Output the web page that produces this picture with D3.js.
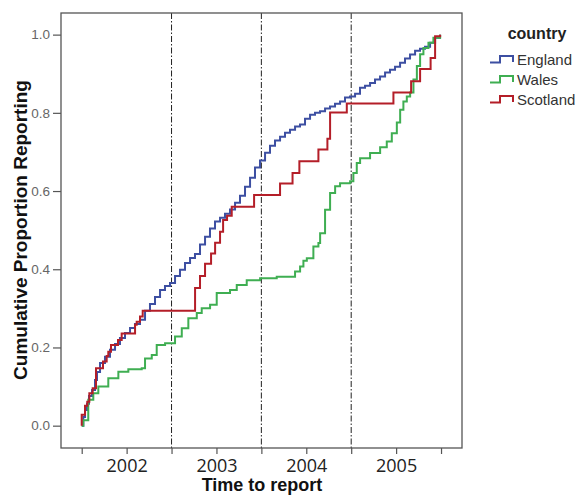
<!DOCTYPE html>
<html>
<head>
<meta charset="utf-8">
<script src="https://cdn.jsdelivr.net/npm/d3@7"></script>
<style>
  body { margin: 0; background: #fff; }
</style>
</head>
<body>
<div id="chart"></div>
<script>

/* data: [years since start of 2002, cumulative proportion] */
var countries = ["England", "Wales", "Scotland"];
var yearLabels = ["2002", "2003", "2004", "2005"];
var yTickValues = [0, 0.2, 0.4, 0.6, 0.8, 1.0];
var yearBreaks = [1, 2, 3];

var england = [
  [0, 0], [0.018, 0.022], [0.037, 0.04], [0.059, 0.056], [0.081, 0.076], [0.115, 0.091],
  [0.148, 0.117], [0.170, 0.137], [0.204, 0.16], [0.259, 0.176], [0.315, 0.194],
  [0.371, 0.209], [0.426, 0.224], [0.482, 0.237], [0.538, 0.25], [0.593, 0.26],
  [0.649, 0.271], [0.705, 0.294], [0.760, 0.311], [0.816, 0.329], [0.872, 0.347],
  [0.927, 0.357], [0.983, 0.365], [1.039, 0.383], [1.094, 0.399], [1.150, 0.416],
  [1.206, 0.429], [1.261, 0.439], [1.317, 0.463], [1.373, 0.483], [1.428, 0.504],
  [1.484, 0.522], [1.540, 0.532], [1.595, 0.542], [1.651, 0.553], [1.707, 0.57],
  [1.762, 0.588], [1.818, 0.611], [1.874, 0.634], [1.929, 0.66], [1.985, 0.678],
  [2.041, 0.698], [2.096, 0.716], [2.152, 0.729], [2.208, 0.739], [2.263, 0.749],
  [2.319, 0.757], [2.375, 0.765], [2.430, 0.77], [2.486, 0.785], [2.542, 0.795],
  [2.597, 0.8], [2.653, 0.804], [2.709, 0.811], [2.764, 0.816], [2.820, 0.823],
  [2.876, 0.829], [2.931, 0.839], [2.987, 0.842], [3.043, 0.849], [3.098, 0.864],
  [3.154, 0.869], [3.210, 0.876], [3.265, 0.885], [3.321, 0.893], [3.377, 0.903],
  [3.432, 0.91], [3.488, 0.918], [3.544, 0.928], [3.599, 0.939], [3.655, 0.949],
  [3.711, 0.959], [3.766, 0.964], [3.822, 0.969], [3.878, 0.979], [3.934, 0.992],
  [3.989, 1.0]
];

var wales = [
  [0, 0], [0.018, 0.014], [0.073, 0.066], [0.129, 0.083], [0.185, 0.1], [0.296, 0.121],
  [0.408, 0.138], [0.519, 0.144], [0.668, 0.147], [0.705, 0.172], [0.78, 0.181],
  [0.835, 0.206], [0.928, 0.211], [1.039, 0.228], [1.114, 0.249], [1.187, 0.275],
  [1.281, 0.288], [1.336, 0.3], [1.429, 0.309], [1.503, 0.339], [1.651, 0.347],
  [1.726, 0.36], [1.837, 0.372], [1.986, 0.377], [2.171, 0.381], [2.375, 0.394],
  [2.431, 0.407], [2.468, 0.422], [2.506, 0.428], [2.579, 0.458], [2.635, 0.467],
  [2.654, 0.492], [2.709, 0.552], [2.765, 0.595], [2.821, 0.612], [2.876, 0.62],
  [2.988, 0.625], [3.024, 0.646], [3.062, 0.672], [3.099, 0.684], [3.21, 0.697],
  [3.322, 0.712], [3.396, 0.727], [3.452, 0.748], [3.508, 0.775], [3.545, 0.808],
  [3.581, 0.829], [3.619, 0.842], [3.656, 0.852], [3.693, 0.885], [3.731, 0.92],
  [3.767, 0.95], [3.804, 0.966], [3.86, 0.979], [3.915, 0.992], [3.99, 1.0]
];

var scotland = [
  [0, 0], [0, 0.028], [0.037, 0.051], [0.062, 0.061], [0.085, 0.083], [0.122, 0.096],
  [0.159, 0.147], [0.237, 0.164], [0.278, 0.178], [0.296, 0.189], [0.326, 0.206],
  [0.404, 0.219], [0.445, 0.236], [0.594, 0.258], [0.612, 0.266], [0.649, 0.279],
  [0.679, 0.294], [1.262, 0.352], [1.317, 0.383], [1.373, 0.414], [1.44, 0.44],
  [1.485, 0.468], [1.54, 0.496], [1.574, 0.526], [1.618, 0.537], [1.67, 0.56],
  [1.919, 0.59], [2.208, 0.619], [2.347, 0.646], [2.423, 0.676], [2.635, 0.706],
  [2.735, 0.734], [2.765, 0.801], [2.951, 0.824], [3.47, 0.852], [3.667, 0.881],
  [3.767, 0.912], [3.884, 0.94], [3.934, 0.996], [3.99, 1.0]
];

var series = [england, wales, scotland];
var colors = ["#3d4fa2", "#3fae52", "#b41e28"];

/* canvas and frame */
var W = 579, H = 495;
var frame = {left: 61, right: 462, top: 13, bottom: 448};

var svg = d3.select("#chart").append("svg")
  .attr("width", W)
  .attr("height", H)
  .style("font-family", "'Liberation Sans', Arial, sans-serif");

var x = d3.scaleLinear()
  .domain([-0.2305, 4.2334])
  .range([frame.left, frame.right]);

var y = d3.scaleLinear()
  .domain([-0.0571, 1.0553])
  .range([frame.bottom, frame.top]);

/* year boundaries, dash-dot */
svg.selectAll(".yearline")
  .data(yearBreaks)
  .enter().append("line")
  .attr("class", "yearline")
  .attr("x1", function(d) { return x(d); })
  .attr("x2", function(d) { return x(d); })
  .attr("y1", frame.top)
  .attr("y2", frame.bottom)
  .attr("stroke", "#222")
  .attr("stroke-width", 1)
  .attr("stroke-dasharray", "6,2,1.5,2");

/* step lines */
var line = d3.line()
  .x(function(d) { return x(d[0]); })
  .y(function(d) { return y(d[1]); })
  .curve(d3.curveStepAfter);

svg.selectAll(".series")
  .data(series)
  .enter().append("path")
  .attr("class", "series")
  .attr("d", line)
  .attr("fill", "none")
  .attr("stroke", function(d, i) { return colors[i]; })
  .attr("stroke-width", 2);

/* frame */
svg.append("rect")
  .attr("x", frame.left)
  .attr("y", frame.top)
  .attr("width", frame.right - frame.left)
  .attr("height", frame.bottom - frame.top)
  .attr("fill", "none")
  .attr("stroke", "#555")
  .attr("stroke-width", 1.3);

/* y axis */
var yAxis = svg.append("g")
  .attr("transform", "translate(" + frame.left + ",0)")
  .call(d3.axisLeft(y).tickValues(yTickValues).tickFormat(d3.format(".1f")).tickSize(8).tickPadding(3));
yAxis.select(".domain").remove();
yAxis.selectAll("line").attr("stroke", "#555").attr("stroke-width", 1.2);
yAxis.selectAll("text")
  .attr("fill", "#666")
  .style("font-size", "13.5px")
  .style("font-family", "'Liberation Sans', Arial, sans-serif");

/* x axis: ticks every half year, labels in the middle of each year */
var xTickValues = d3.range(0, 4.01, 0.5);
var xAxis = svg.append("g")
  .attr("transform", "translate(0," + frame.bottom + ")")
  .call(d3.axisBottom(x).tickValues(xTickValues)
    .tickFormat(function(d) { return (d % 1 === 0.5) ? yearLabels[Math.floor(d)] : ""; })
    .tickSize(6).tickPadding(5));
xAxis.select(".domain").remove();
xAxis.selectAll("line").attr("stroke", "#555").attr("stroke-width", 1.2);
xAxis.selectAll("text")
  .attr("fill", "#222")
  .style("font-size", "18px")
  .style("font-family", "'Open Sans', sans-serif");

/* axis titles */
svg.append("text")
  .attr("x", 262)
  .attr("y", 491)
  .attr("text-anchor", "middle")
  .style("font-size", "18px")
  .style("font-weight", "bold")
  .attr("fill", "#111")
  .text("Time to report");

svg.append("text")
  .attr("transform", "translate(27," + 230 + ") rotate(-90)")
  .attr("text-anchor", "middle")
  .style("font-size", "19px")
  .style("font-weight", "bold")
  .attr("fill", "#111")
  .text("Cumulative Proportion Reporting");

/* legend */
var legend = svg.append("g").attr("class", "legend");

legend.append("text")
  .attr("x", 537)
  .attr("y", 39)
  .attr("text-anchor", "middle")
  .style("font-size", "16px")
  .style("font-weight", "bold")
  .attr("fill", "#222")
  .text("country");

var item = legend.selectAll(".item")
  .data(countries)
  .enter().append("g")
  .attr("class", "item")
  .attr("transform", function(d, i) { return "translate(0," + (65 + i * 20) + ")"; });

item.append("path")
  .attr("d", "M490,-2.5H500V-9H513V-3")
  .attr("fill", "none")
  .attr("stroke", function(d, i) { return colors[i]; })
  .attr("stroke-width", 2);

item.append("text")
  .attr("x", 517)
  .attr("y", 0)
  .style("font-size", "15px")
  .attr("fill", "#333")
  .text(function(d) { return d; });

</script>
</body>
</html>
